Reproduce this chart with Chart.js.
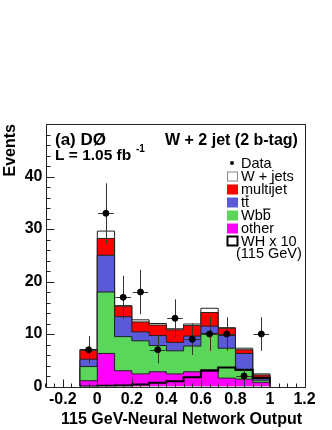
<!DOCTYPE html>
<html><head><meta charset="utf-8">
<script src="https://cdn.jsdelivr.net/npm/chart.js@4.4.0/dist/chart.umd.min.js"></script>
<style>html,body{margin:0;padding:0;background:#fff;}#wrap{width:332px;height:430px;position:relative;}</style>
</head><body><div id="wrap"><canvas id="c"></canvas></div>
<script>
// ---- data ----
const binEdges  = [-0.1,0,0.1,0.2,0.3,0.4,0.5,0.6,0.7,0.8,0.9,1.0];
const binCenters= [-0.05,0.05,0.15,0.25,0.35,0.45,0.55,0.65,0.75,0.85,0.95];
const other     = [1.1,6.3,3.0,2.4,2.8,2.4,2.8,3.2,1.6,1.4,0.8];
const wbb       = [2.7,11.7,6.5,6.3,5.0,4.4,4.9,6.9,5.7,1.7,0.4];
const ttbar     = [1.4,7.0,3.8,1.7,1.9,1.6,1.9,1.4,2.4,3.2,0.6];
const multijet  = [1.8,3.2,2.0,1.9,2.0,2.4,2.0,2.6,1.4,0.7,0.4];
const wjets     = [0.05,1.4,0.1,0.4,0.3,0.2,0.3,0.8,0.1,0.3,0.2];
const whx10     = [0.0,0.15,0.2,0.4,0.7,1.0,1.75,3.0,3.6,3.2,1.6];
const dataVals  = [7,33,17,18,7,13,9,10,10,2,10];
const dataErr   = [2.6,5.7,4.1,4.2,2.6,3.6,3.0,3.2,3.2,1.4,3.2];
const xTicks    = [-0.2,0,0.2,0.4,0.6,0.8,1,1.2];
const yTicks    = [0,10,20,30,40];
// legend labels; a trailing '~' marks a bar over the last letter
const legendLabels = ['Data','W + jets','multijet','tt~','Wbb~','other','WH x 10'];

const FONT = "'Liberation Sans', Arial, Helvetica, sans-serif";
const colors = {other:'#ff00ff', wbb:'#5ad65a', ttbar:'#5a5ad8', multijet:'#ff0000', wjets:'#ffffff'};

function stepPts(vals){
  const p=[{x:binEdges[0],y:0}];
  vals.forEach((v,i)=>p.push({x:binEdges[i],y:v}));
  p.push({x:binEdges[binEdges.length-1],y:0});
  return p;
}
const layers=[other,wbb,ttbar,multijet,wjets];
const cum=[]; let run=new Array(other.length).fill(0);
layers.forEach(l=>{ run=run.map((r,i)=>r+l[i]); cum.push(run.slice()); });

function layerDS(label, vals, color){
  return {type:'line', label, data:stepPts(vals), stepped:true, fill:'origin',
    backgroundColor:color, borderColor:'#222', borderWidth:1, pointRadius:0,
    borderJoinStyle:'miter', borderCapStyle:'butt'};
}

const xHalf = 0.045;

const decor = {
  id:'decor',
  beforeDatasetDraw(chart, args){
    if(args.index!==0) return;
    const {ctx, scales:{x,y}} = chart;
    ctx.save(); ctx.strokeStyle='#333'; ctx.lineWidth=1;
    binCenters.forEach((c,i)=>{
      const px=Math.round(x.getPixelForValue(c))+0.5, py=Math.round(y.getPixelForValue(dataVals[i]))+0.5;
      ctx.beginPath();
      ctx.moveTo(px, y.getPixelForValue(dataVals[i]-dataErr[i]));
      ctx.lineTo(px, y.getPixelForValue(dataVals[i]+dataErr[i]));
      ctx.moveTo(x.getPixelForValue(c-xHalf), py);
      ctx.lineTo(x.getPixelForValue(c+xHalf), py);
      ctx.stroke();
    });
    ctx.restore();
  },
  afterDraw(chart){
    const {ctx, chartArea:ca, scales:{x,y}} = chart;
    ctx.save();
    // frame
    ctx.strokeStyle='#222'; ctx.lineWidth=1;
    ctx.strokeRect(Math.round(ca.left)+0.5, Math.round(ca.top)+0.5, Math.round(ca.right-ca.left), Math.round(ca.bottom-ca.top));
    // inward ticks
    ctx.beginPath();
    const L=Math.round(ca.left)+0.5, B=Math.round(ca.bottom)+0.5;
    for(let v=0; v<=50.001; v+=2){
      const py=Math.round(y.getPixelForValue(v))+0.5;
      const len = (Math.abs(v%10)<1e-6)?8:4;
      ctx.moveTo(L,py); ctx.lineTo(L+len,py);
    }
    for(let k=-6; k<=24; k++){
      const v=k*0.05;
      const px=Math.round(x.getPixelForValue(v))+0.5;
      const len=(k%4===0)?8:4;
      ctx.moveTo(px,B); ctx.lineTo(px,B-len);
    }
    ctx.stroke();
    // axis titles
    ctx.fillStyle='#000';
    ctx.font='bold 16px '+FONT;
    ctx.textAlign='right'; ctx.textBaseline='alphabetic';
    ctx.fillText('115 GeV-Neural Network Output', 302, 424);
    ctx.save(); ctx.translate(15,124); ctx.rotate(-Math.PI/2);
    ctx.textAlign='right'; ctx.fillText('Events',0,0); ctx.restore();
    // plot labels
    ctx.textAlign='left';
    ctx.font='bold 17px '+FONT;
    ctx.fillText('(a) D\u00D8', 55, 145);
    ctx.font='bold 15.5px '+FONT;
    ctx.fillText('L = 1.05 fb', 55, 160);
    ctx.font='bold 10px '+FONT;
    ctx.fillText('-1', 136, 152);
    ctx.font='bold 16px '+FONT;
    ctx.fillText('W + 2 jet (2 b-tag)', 165, 145);
    // legend
    ctx.font='14.5px '+FONT; ctx.textBaseline='middle';
    const rows=[163,176.5,189.5,202.5,215.5,228.5,241];
    const fills=[null,colors.wjets,colors.multijet,colors.ttbar,colors.wbb,colors.other,'#ffffff'];
    legendLabels.forEach((lab,i)=>{
      const yy=rows[i];
      if(i===0){
        ctx.beginPath(); ctx.arc(232,yy,2,0,Math.PI*2); ctx.fillStyle='#000'; ctx.fill();
      } else {
        ctx.fillStyle=fills[i]; ctx.fillRect(227.5,yy-4.5,10,9);
        ctx.strokeStyle= i===6?'#000':(i===1?'#888':fills[i]); ctx.lineWidth= i===6?2:1;
        ctx.strokeRect(227.5,yy-4.5,10,9);
      }
      ctx.fillStyle='#000';
      let txt=lab, bar=false;
      if(txt.endsWith('~')){ txt=txt.slice(0,-1); bar=true; }
      ctx.fillText(txt, 241, yy+0.5);
      if(bar){
        const w=ctx.measureText(txt).width, wl=ctx.measureText(txt.slice(-1)).width;
        ctx.fillRect(241+w-wl+0.5, yy-7, wl-1, 1.2);
      }
    });
    ctx.fillText('(115 GeV)', 236, 254);
    ctx.restore();
  }
};

new Chart(document.getElementById('c'), {
  type:'line',
  data:{datasets:[
    {type:'scatter', label:'Data', data:binCenters.map((x,i)=>({x,y:dataVals[i]})),
      pointRadius:3, pointHoverRadius:3, pointBackgroundColor:'#000', pointBorderColor:'#000', showLine:false},
    {type:'line', label:'WH x 10', data:stepPts(whx10), stepped:true, fill:false,
      borderColor:'#000', borderWidth:2, pointRadius:0, borderJoinStyle:'miter'},
    layerDS('other', cum[0], colors.other),
    layerDS('Wbb', cum[1], colors.wbb),
    layerDS('ttbar', cum[2], colors.ttbar),
    layerDS('multijet', cum[3], colors.multijet),
    layerDS('W + jets', cum[4], colors.wjets)
  ]},
  options:{
    responsive:true, maintainAspectRatio:false, animation:false, events:[],
    layout:{padding:{left:0, top:124, right:27.5, bottom:0}},
    plugins:{legend:{display:false}, tooltip:{enabled:false}, title:{display:false}},
    scales:{
      x:{type:'linear', min:-0.3, max:1.2,
        afterBuildTicks:s=>{ s.ticks=xTicks.map(v=>({value:v})); },
        afterFit:s=>{ s.height=43.5; },
        grid:{display:false, drawTicks:false}, border:{display:false},
        ticks:{autoSkip:false, maxRotation:0, padding:3, color:'#000',
          font:{family:FONT, weight:'bold', size:16}, callback:v=>String(v)}},
      y:{type:'linear', min:0, max:50,
        afterBuildTicks:s=>{ s.ticks=yTicks.map(v=>({value:v})); },
        afterFit:s=>{ s.width=45.5; },
        grid:{display:false, drawTicks:false}, border:{display:false},
        ticks:{padding:3, color:'#000', font:{family:FONT, weight:'bold', size:16}, callback:v=>String(v)}}
    }
  },
  plugins:[decor]
});
</script></body></html>
